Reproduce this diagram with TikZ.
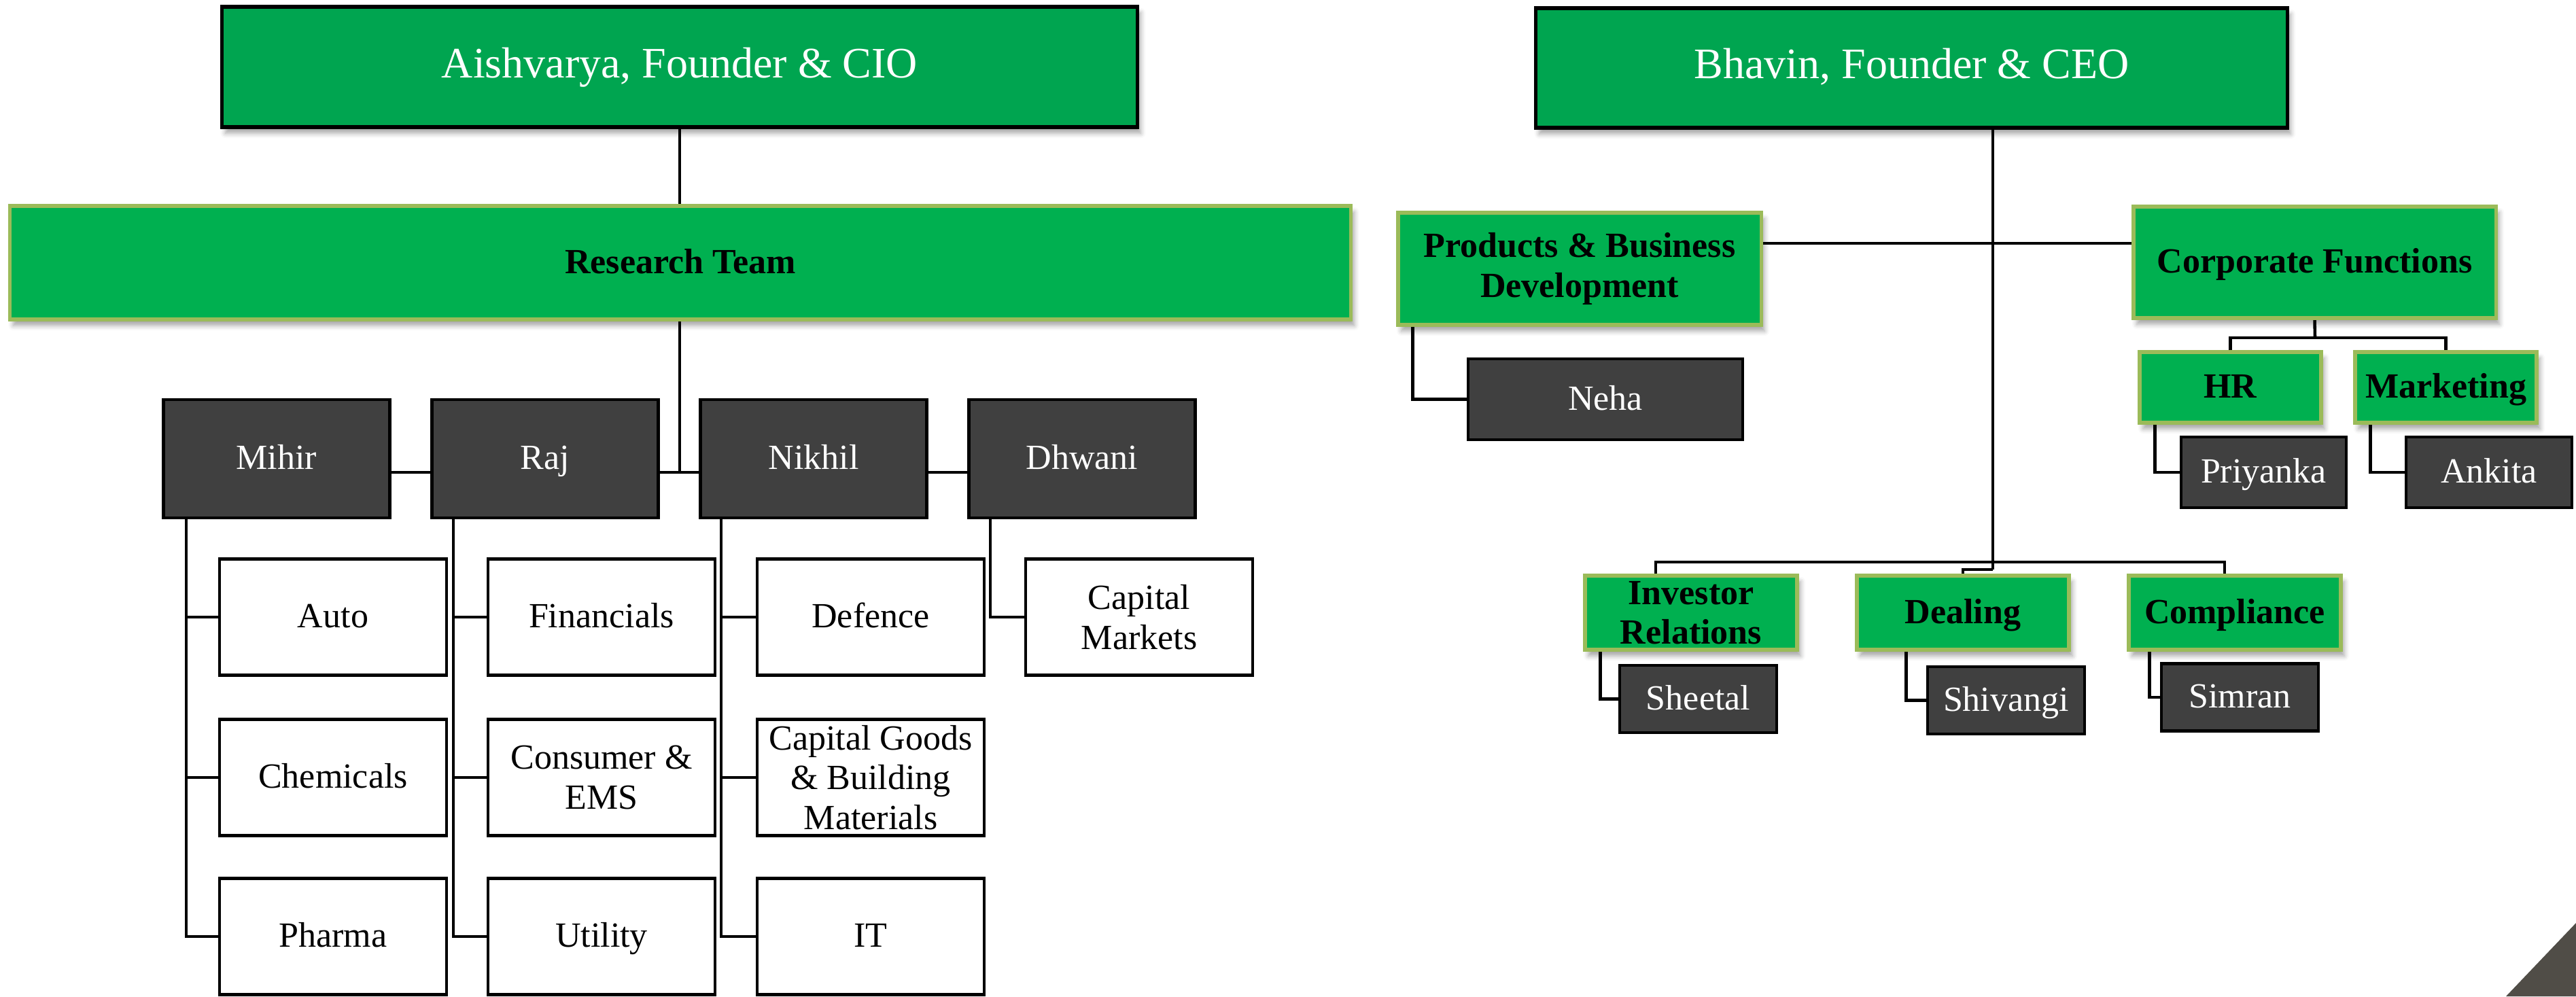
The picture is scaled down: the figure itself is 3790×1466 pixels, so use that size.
\documentclass[tikz,border=0pt]{standalone}
\usepackage{fontspec}
\setmainfont{Liberation Serif}
\usetikzlibrary{shadows.blur}
\pgfdeclarelayer{back}
\pgfsetlayers{back,main}

\definecolor{ceogreen}{RGB}{0,165,80}
\definecolor{teamgreen}{RGB}{0,176,80}
\definecolor{leafgreen}{RGB}{155,187,89}
\definecolor{personfill}{RGB}{64,64,64}
\definecolor{cornerfill}{RGB}{80,77,71}

\begin{document}
\begin{tikzpicture}[x=0.01cm, y=-0.01cm,
  every node/.style={inner sep=0pt, align=center},
  oneline/.style={text height=0.89em, text depth=0pt},
  boxshadow/.style={blur shadow={shadow xshift=0.05cm, shadow yshift=-0.09cm, shadow blur radius=0.07cm, shadow opacity=35}},
  ceo/.style={draw=black, line width=1.5pt, fill=ceogreen, text=white, font=\fontsize{18.2}{22}\selectfont, boxshadow, oneline},
  team/.style={draw=leafgreen, line width=1.5pt, fill=teamgreen, font=\fontsize{14.8}{16.6}\selectfont\bfseries, boxshadow},
  person/.style={draw=black, line width=1.3pt, fill=personfill, text=white, font=\fontsize{14.8}{16.6}\selectfont, oneline},
  lead/.style={person, minimum width=3.33cm, minimum height=1.74cm},
  sector/.style={draw=black, line width=1.3pt, fill=white, font=\fontsize{14.8}{16.6}\selectfont, minimum width=3.34cm, minimum height=1.71cm},
  desk/.style={team, minimum width=3.12cm, minimum height=1.09cm},
  staff/.style={person, minimum width=2.31cm, minimum height=0.99cm},
  link/.style={draw=black, line width=1.3pt},
]
\useasboundingbox (0,0) rectangle (3790,1466);

% ---------- research side ----------
\node[ceo, minimum width=13.46cm, minimum height=1.77cm] (aish) at (1000,98.5) {Aishvarya, Founder \& CIO};
\node[team, oneline, minimum width=19.72cm, minimum height=1.67cm] (research) at (1001,386.5) {Research Team};

\node[lead] (mihir)  at (407,675)  {Mihir};
\node[lead] (raj)    at (802,675)  {Raj};
\node[lead] (nikhil) at (1197,675) {Nikhil};
\node[lead] (dhwani) at (1592,675) {Dhwani};

\node[sector, oneline] (auto)   at (490,908)  {Auto};
\node[sector, oneline] (chem)   at (490,1144) {Chemicals};
\node[sector, oneline] (pharma) at (490,1378) {Pharma};
\node[sector, oneline] (fin)    at (885,908)  {Financials};
\node[sector] (cons)   at (885,1144) {Consumer \&\\EMS};
\node[sector, oneline] (util)   at (885,1378) {Utility};
\node[sector, oneline] (def)    at (1281,908) {Defence};
\node[sector] (capg)   at (1281,1144) {Capital Goods\\\& Building\\Materials};
\node[sector, oneline] (it)     at (1281,1378) {IT};
\node[sector] (capm)   at (1676,908) {Capital\\Markets};

% ---------- management side ----------
\node[ceo, minimum width=11.05cm, minimum height=1.76cm] (bhavin) at (2812.5,100) {Bhavin, Founder \& CEO};
\node[team, minimum width=5.34cm, minimum height=1.65cm] (pbd) at (2324,395.5) {Products \& Business\\Development};
\node[team, oneline, minimum width=5.33cm, minimum height=1.64cm] (corp) at (3405.5,386) {Corporate Functions};
\node[person, minimum width=4.04cm, minimum height=1.19cm] (neha) at (2362,587.5) {Neha};
\node[team, oneline, minimum width=2.67cm, minimum height=1.04cm] (hr) at (3281.5,570) {HR};
\node[team, oneline, minimum width=2.67cm, minimum height=1.04cm] (mkt) at (3598.5,570) {Marketing};
\node[person, minimum width=2.43cm, minimum height=1.04cm] (priy) at (3330.5,695) {Priyanka};
\node[person, minimum width=2.44cm, minimum height=1.04cm] (ankita) at (3662,695) {Ankita};

\node[desk] (ir)   at (2488,901.5) {Investor\\Relations};
\node[desk, oneline] (deal) at (2888,901.5) {Dealing};
\node[desk, oneline] (comp) at (3288,901.5) {Compliance};
\node[staff] (sheetal) at (2498.5,1028.5) {Sheetal};
\node[staff] (shiv)    at (2951.5,1030.5) {Shivangi};
\node[staff] (simran)  at (3295.5,1026) {Simran};

% ---------- connectors ----------
\coordinate (teambus) at (1000,695);
\coordinate (midbar) at (2932,358);
\coordinate (spine) at (2932,827);
\coordinate (spinejog) at (2932,838);
\coordinate (corpbar) at (3406,497);

\begin{pgfonlayer}{back}
\draw[link] (aish.south) -- (aish.south |- research.north);
\draw[link] (research.south -| teambus) -- (teambus);
\draw[link] (mihir.east |- teambus) -- (dhwani.west |- teambus);

\draw[link] ([xshift=0.36cm]mihir.south west) |- (pharma.west);
\draw[link] (auto.west) -| ([xshift=0.36cm]mihir.south west);
\draw[link] (chem.west) -| ([xshift=0.36cm]mihir.south west);

\draw[link] ([xshift=0.34cm]raj.south west) |- (util.west);
\draw[link] (fin.west) -| ([xshift=0.34cm]raj.south west);
\draw[link] (cons.west) -| ([xshift=0.34cm]raj.south west);

\draw[link] ([xshift=0.33cm]nikhil.south west) |- (it.west);
\draw[link] (def.west) -| ([xshift=0.33cm]nikhil.south west);
\draw[link] (capg.west) -| ([xshift=0.33cm]nikhil.south west);

\draw[link] ([xshift=0.34cm]dhwani.south west) |- (capm.west);

\draw[link] (bhavin.south -| spine) -- (spinejog);
\draw[link] (pbd.east |- midbar) -- (corp.west |- midbar);
\draw[link] (neha.west) -| ([xshift=0.24cm]pbd.south west);

\draw[link] (corp.south) -- (corpbar);
\draw[link] (hr.north) |- (corpbar) -| (mkt.north);
\draw[link] (priy.west) -| ([xshift=0.25cm]hr.south west);
\draw[link] (ankita.west) -| ([xshift=0.25cm]mkt.south west);

\draw[link] ([xshift=-0.52cm]ir.north) |- (spine) -| ([xshift=-0.15cm]comp.north);
\draw[link] (spinejog) -| (deal.north);
\draw[link] (sheetal.west) -| ([xshift=0.25cm]ir.south west);
\draw[link] (shiv.west) -| ([xshift=0.75cm]deal.south west);
\draw[link] (simran.west) -| ([xshift=0.33cm]comp.south west);
\end{pgfonlayer}

% corner mark
\fill[cornerfill] (3687,1466) -- (3790,1358) -- (3790,1466) -- cycle;
\end{tikzpicture}
\end{document}
